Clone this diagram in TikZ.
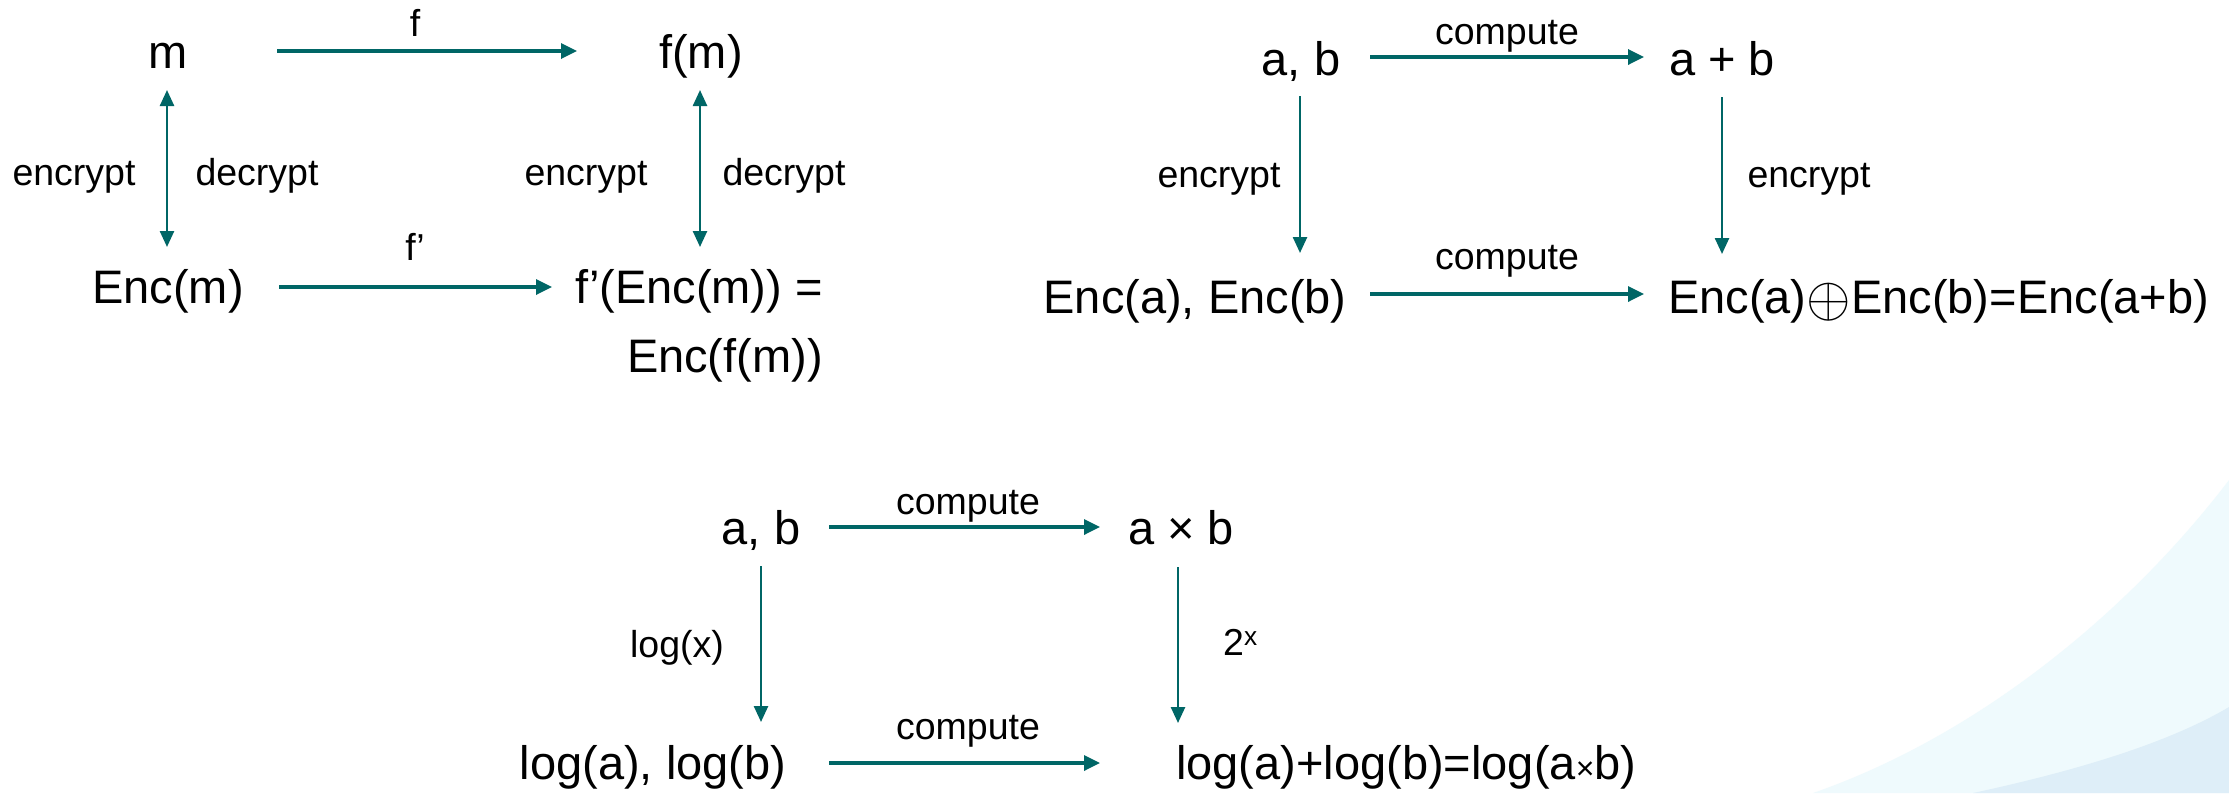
\documentclass[tikz,border=0pt]{standalone}
\usepackage{fontspec}
\usepackage{graphicx}
\setmainfont{Liberation Sans}
\usetikzlibrary{arrows.meta}

\definecolor{arrowteal}{RGB}{0,102,102}
\definecolor{waveLight}{RGB}{239,250,253}
\definecolor{waveDeep}{RGB}{222,238,248}

\tikzset{
  term/.style={font=\fontsize{47}{56}\selectfont, inner sep=0pt, anchor=base},
  tag/.style={font=\fontsize{37.5}{45}\selectfont, inner sep=0pt, anchor=base},
  harrow/.style={draw=arrowteal, line width=3.3pt, -{Triangle[length=16pt,width=15pt]}},
  varrow/.style={draw=arrowteal, line width=2.5pt, -{Triangle[length=16pt,width=14pt]}},
  vboth/.style={draw=arrowteal, line width=2.5pt, {Triangle[length=16pt,width=14pt]}-{Triangle[length=16pt,width=14pt]}}
}
% circled plus, enlarged and set a little below the text line
\newcommand{\circplus}{\raisebox{-3pt}{\scalebox{2.3}{$\oplus$}}}

\begin{document}
\begin{tikzpicture}[x=1pt, y=-1pt]
  % canvas
  \useasboundingbox (0,0) rectangle (2229,793);
  \fill[white] (0,0) rectangle (2229,793);

  % decorative waves in the lower right corner
  \fill[waveLight] (1813,793) .. controls (1980,735) and (2130,610) .. (2229,480)
    -- (2229,793) -- cycle;
  \fill[waveDeep] (1973,793) .. controls (2080,770) and (2170,742) .. (2229,707)
    -- (2229,793) -- cycle;

  % ---------- homomorphic encryption square ----------
  \node[term] (m)    at (168,68)  {m};
  \node[term] (fm)   at (701,68)  {f(m)};
  \node[term] (encm) at (168,303) {Enc(m)};
  \node[term, anchor=base east] (fenc)  at (823,303) {f’(Enc(m)) =};
  \node[term, anchor=base east] (fencb) at (823,372) {Enc(f(m))};

  \node[tag] (lf)   at (415,36)  {f};
  \node[tag] (lfp)  at (415,260) {f’};
  \node[tag] (encl) at (74,185)  {encrypt};
  \node[tag] (decl) at (257,185) {decrypt};
  \node[tag] (encr) at (586,185) {encrypt};
  \node[tag] (decr) at (784,185) {decrypt};

  \draw[harrow] ([shift={(109,-17)}]m.base) -- ([shift={(-124,-17)}]fm.base);
  \draw[harrow] ([shift={(111,-16)}]encm.base) -- ([shift={(-271,-16)}]fenc.base east);
  \draw[vboth] ([shift={(-1,22)}]m.base) -- ([shift={(-1,-56)}]encm.base);
  \draw[vboth] ([shift={(-1,22)}]fm.base) -- ([shift={(-123,-56)}]fenc.base east);

  % ---------- additive homomorphism ----------
  \node[term] (ab)     at (1301,75)  {a, b};
  \node[term] (apb)    at (1722,75)  {a + b};
  \node[term] (encab)  at (1195,313) {Enc(a), Enc(b)};
  \node[term, anchor=base west] (encsum) at (1668,313)
    {Enc(a)\circplus Enc(b)=Enc(a+b)};

  \node[tag] (cmpa)  at (1507,44)  {compute};
  \node[tag] (cmpb)  at (1507,269) {compute};
  \node[tag] (encl2) at (1219,187) {encrypt};
  \node[tag] (encr2) at (1809,187) {encrypt};

  \draw[harrow] ([shift={(69,-18)}]ab.base) -- ([shift={(-78,-18)}]apb.base);
  \draw[harrow] ([shift={(175,-19)}]encab.base) -- ([shift={(-24,-19)}]encsum.base west);
  \draw[varrow] ([shift={(-1,21)}]ab.base) -- ([shift={(105,-60)}]encab.base);
  \draw[varrow] ([shift={(0,22)}]apb.base) -- ([shift={(54,-59)}]encsum.base west);

  % ---------- logarithm analogy ----------
  \node[term] (ab3)   at (761,544)  {a, b};
  \node[term] (atb)   at (1181,544) {a × b};
  \node[term] (logab) at (653,779)  {log(a), log(b)};
  \node[term, anchor=base west] (logsum) at (1176,779)
    {log(a)+log(b)=log(a{\fontsize{32}{32}\selectfont ×}b)};

  \node[tag] (cmpc) at (968,514) {compute};
  \node[tag] (cmpd) at (968,739) {compute};
  \node[tag] (llog) at (677,657) {log(x)};
  \node[tag, anchor=base west] (lexp) at (1223,655) {2\textsuperscript{x}};

  \draw[harrow] ([shift={(68,-17)}]ab3.base) -- ([shift={(-81,-17)}]atb.base);
  \draw[harrow] ([shift={(176,-16)}]logab.base) -- ([shift={(-76,-16)}]logsum.base west);
  \draw[varrow] ([shift={(0,22)}]ab3.base) -- ([shift={(108,-57)}]logab.base);
  \draw[varrow] ([shift={(-3,23)}]atb.base) -- ([shift={(2,-56)}]logsum.base west);
\end{tikzpicture}
\end{document}
